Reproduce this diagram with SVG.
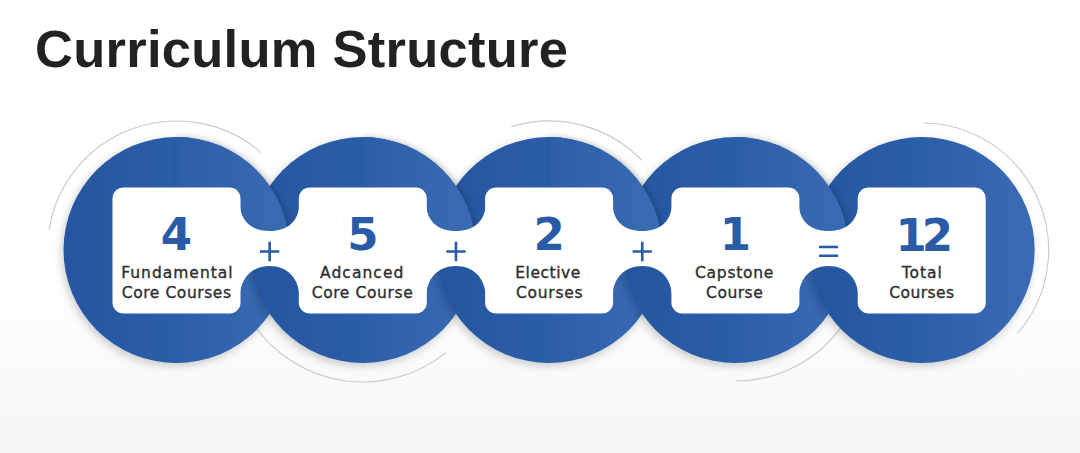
<svg xmlns="http://www.w3.org/2000/svg" width="1080" height="453" viewBox="0 0 1080 453">
  <defs>
    <linearGradient id="bg" x1="0" y1="0" x2="0" y2="1">
      <stop offset="0" stop-color="#ffffff"/>
      <stop offset="0.6" stop-color="#ffffff"/>
      <stop offset="1" stop-color="#f5f6f8"/>
    </linearGradient>
    <linearGradient id="blue" x1="0" y1="0" x2="1" y2="0">
      <stop offset="0" stop-color="#2556a0"/>
      <stop offset="0.5" stop-color="#2c5ea8"/>
      <stop offset="1" stop-color="#3a6cb4"/>
    </linearGradient>
    <filter id="shL" x="-20%" y="-20%" width="140%" height="140%">
      <feDropShadow dx="-2" dy="3" stdDeviation="4" flood-color="#000" flood-opacity="0.2"/>
    </filter>
    <filter id="shR" x="-20%" y="-20%" width="140%" height="140%">
      <feDropShadow dx="2" dy="1" stdDeviation="3.5" flood-color="#000" flood-opacity="0.25"/>
    </filter>
    <clipPath id="q1"><rect x="176.5" y="100" width="140" height="150"/></clipPath>
    <clipPath id="q2"><rect x="362.8" y="100" width="140" height="150"/></clipPath>
    <clipPath id="q3"><rect x="549.1" y="100" width="140" height="150"/></clipPath>
    <clipPath id="q4"><rect x="735.4" y="100" width="140" height="150"/></clipPath>
  </defs>
  <style>
    .ring { fill: url(#blue); }
    .arc { fill: none; stroke: #c9c9c9; stroke-width: 1.1; }
    .box { fill: #ffffff; }
    .num { font-family: "DejaVu Sans", "Liberation Sans", sans-serif; font-weight: bold; font-size: 45px; fill: #2a5ba6; text-anchor: middle; }
    .lbl { font-family: "DejaVu Sans", "Liberation Sans", sans-serif; font-size: 15.5px; fill: #2e2e2e; stroke: #2e2e2e; stroke-width: 0.35; text-anchor: middle; }
    .op { stroke: #2a5ba6; stroke-width: 2.6; fill: none; }
    .title { font-family: "Liberation Sans", Arial, sans-serif; font-weight: bold; font-size: 52.5px; fill: #222222; }
  </style>

  <rect width="1080" height="453" fill="url(#bg)"/>

  <text class="title" x="35" y="66.5" textLength="533" lengthAdjust="spacing">Curriculum Structure</text>

  <g id="arcs">
    <path class="arc" d="M 49.1 229.8 A 129 129 0 0 1 261.1 152.6"/>
    <path class="arc" d="M 254.7 325.7 A 132 132 0 0 0 445.9 352.6"/>
    <path class="arc" d="M 511.4 126.6 A 129 129 0 0 1 641.9 160.4"/>
    <path class="arc" d="M 842.7 325.1 A 131 131 0 0 1 735.4 381"/>
    <path class="arc" d="M 923.9 123 A 127 127 0 0 1 1017.5 333.3"/>
  </g>

  <g id="rings">
    <circle class="ring" cx="176.5" cy="250" r="113" filter="url(#shL)"/>
    <circle class="ring" cx="362.8" cy="250" r="113" filter="url(#shL)"/>
    <circle class="ring" cx="549.1" cy="250" r="113" filter="url(#shL)"/>
    <circle class="ring" cx="735.4" cy="250" r="113" filter="url(#shL)"/>
    <circle class="ring" cx="921.7" cy="250" r="113" filter="url(#shL)"/>
    <g filter="url(#shR)"><circle class="ring" cx="176.5" cy="250" r="113" clip-path="url(#q1)"/></g>
    <g filter="url(#shR)"><circle class="ring" cx="362.8" cy="250" r="113" clip-path="url(#q2)"/></g>
    <g filter="url(#shR)"><circle class="ring" cx="549.1" cy="250" r="113" clip-path="url(#q3)"/></g>
    <g filter="url(#shR)"><circle class="ring" cx="735.4" cy="250" r="113" clip-path="url(#q4)"/></g>
  </g>

  <g id="connectors">
    <path class="box" d="M 239.5 200 C 239.5 222 252 231 269.65 231 C 287.3 231 299.8 222 299.8 200 L 299.8 300 C 299.8 278 287.3 266 269.65 266 C 252 266 239.5 278 239.5 300 Z"/>
    <path class="box" d="M 425.8 200 C 425.8 222 438.3 231 455.95 231 C 473.6 231 486.1 222 486.1 200 L 486.1 300 C 486.1 278 473.6 266 455.95 266 C 438.3 266 425.8 278 425.8 300 Z"/>
    <path class="box" d="M 612.1 200 C 612.1 222 624.6 231 642.25 231 C 659.9 231 672.4 222 672.4 200 L 672.4 300 C 672.4 278 659.9 266 642.25 266 C 624.6 266 612.1 278 612.1 300 Z"/>
    <path class="box" d="M 798.4 200 C 798.4 222 810.9 231 828.55 231 C 846.2 231 858.7 222 858.7 200 L 858.7 300 C 858.7 278 846.2 266 828.55 266 C 810.9 266 798.4 278 798.4 300 Z"/>
    <path class="op" d="M 260 251.5 H 279.3 M 269.65 241.8 V 261.2"/>
    <path class="op" d="M 446.3 251.5 H 465.6 M 455.95 241.8 V 261.2"/>
    <path class="op" d="M 632.6 251.5 H 651.9 M 642.25 241.8 V 261.2"/>
    <path class="op" d="M 819 247 H 838.1 M 819 255.8 H 838.1"/>
  </g>

  <g id="node-fundamental">
    <rect class="box" x="112.5" y="187.5" width="128" height="126" rx="11"/>
    <text class="num" x="176.5" y="250">4</text>
    <text class="lbl" x="176.9" y="278.2" textLength="111.5" lengthAdjust="spacing">Fundamental</text>
    <text class="lbl" x="176.4" y="297.6" textLength="109.3" lengthAdjust="spacing">Core Courses</text>
  </g>

  <g id="node-advanced">
    <rect class="box" x="298.8" y="187.5" width="128" height="126" rx="11"/>
    <text class="num" x="362.8" y="250">5</text>
    <text class="lbl" x="361.7" y="278.2" textLength="83.3" lengthAdjust="spacing">Adcanced</text>
    <text class="lbl" x="362.2" y="297.6" textLength="101" lengthAdjust="spacing">Core Course</text>
  </g>

  <g id="node-elective">
    <rect class="box" x="485.1" y="187.5" width="128" height="126" rx="11"/>
    <text class="num" x="549.1" y="250">2</text>
    <text class="lbl" x="547.8" y="278.2" textLength="65" lengthAdjust="spacing">Elective</text>
    <text class="lbl" x="549.3" y="297.6" textLength="66.5" lengthAdjust="spacing">Courses</text>
  </g>

  <g id="node-capstone">
    <rect class="box" x="671.4" y="187.5" width="128" height="126" rx="11"/>
    <text class="num" x="735.4" y="250">1</text>
    <text class="lbl" x="734.2" y="278.2" textLength="78.3" lengthAdjust="spacing">Capstone</text>
    <text class="lbl" x="734.4" y="297.6" textLength="56.7" lengthAdjust="spacing">Course</text>
  </g>

  <g id="node-total">
    <rect class="box" x="857.7" y="187.5" width="128" height="126" rx="11"/>
    <text class="num" x="921.7" y="250.5" letter-spacing="-5">12</text>
    <text class="lbl" x="921.7" y="278.2" textLength="40" lengthAdjust="spacing">Total</text>
    <text class="lbl" x="921.7" y="297.6" textLength="64.7" lengthAdjust="spacing">Courses</text>
  </g>
</svg>
